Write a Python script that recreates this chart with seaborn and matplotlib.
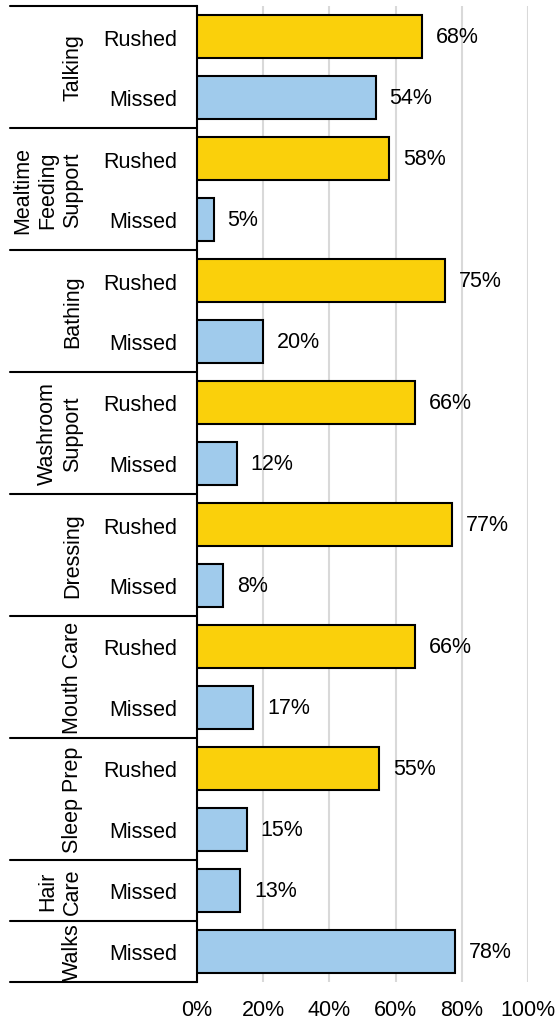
import pandas as pd
import matplotlib.pyplot as plt
import matplotlib.transforms as mtransforms
import seaborn as sns

# ============================
# DATOS
# ============================
groups = ["Talking", "Mealtime\nFeeding\nSupport", "Bathing", "Washroom\nSupport",
          "Dressing", "Mouth Care", "Sleep Prep", "Hair\nCare", "Walks"]
rushed = [68, 58, 75, 66, 77, 66, 55, None, None]
missed = [54, 5, 20, 12, 8, 17, 15, 13, 78]

colors = {"Rushed": "#FAD00B", "Missed": "#A0CBEC"}

# Construimos la tabla fila por fila (orden de arriba hacia abajo)
rows = []
for g, r, m in zip(groups, rushed, missed):
    if r is not None:
        rows.append({"group": g, "type": "Rushed", "value": r, "row": g + "|Rushed"})
    rows.append({"group": g, "type": "Missed", "value": m, "row": g + "|Missed"})
df = pd.DataFrame(rows)

# ============================
# ESTILO
# ============================
sns.set_style("white")
plt.rcParams["font.family"] = ["Liberation Sans", "DejaVu Sans"]
plt.rcParams["font.size"] = 15.5
plt.rcParams["text.color"] = "black"
plt.rcParams["xtick.color"] = "black"
plt.rcParams["ytick.color"] = "black"

fig = plt.figure(figsize=(5.58, 10.2), dpi=100)
ax = fig.add_axes([197 / 558, 1 - 983 / 1020, 331 / 558, 976 / 1020])

sns.barplot(
    data=df, x="value", y="row", hue="type", palette=colors, saturation=1,
    dodge=False, orient="h", width=0.7, edgecolor="black",
    linewidth=1.5, legend=False, ax=ax, zorder=3
)

for c in ax.containers:
    ax.bar_label(c, labels=[f"{v:.0f}%" for v in c.datavalues],
                 padding=10, fontsize=15.5, color="black")

# Ejes
ax.set_xlim(0, 100)
ax.set_ylim(len(df) - 0.5, -0.5)
ax.set_xticks([0, 20, 40, 60, 80, 100])
ax.set_xticklabels([f"{t}%" for t in [0, 20, 40, 60, 80, 100]])
ax.set_yticks(range(len(df)))
ax.set_yticklabels(df["type"])
ax.set_xlabel("")
ax.set_ylabel("")
ax.tick_params(axis="y", length=0, pad=14, labelcolor="black")
ax.tick_params(axis="x", length=0, pad=12, labelcolor="black")
ax.xaxis.grid(True, color="#D9D9D9", linewidth=1.5, zorder=0)
ax.set_axisbelow(True)
for s in ["top", "right", "bottom"]:
    ax.spines[s].set_visible(False)
ax.spines["left"].set_color("black")
ax.spines["left"].set_linewidth(1.5)

# Separadores de grupo y etiquetas de grupo
trans = mtransforms.blended_transform_factory(ax.transAxes, ax.transData)
x_left = (10 - 197) / 331
x_label = (83 - 197) / 331
pos = 0
ax.plot([x_left, 0], [-0.5, -0.5], color="black", lw=1.5, transform=trans, clip_on=False)
for g in groups:
    n = (df["group"] == g).sum()
    center = pos + (n - 1) / 2
    ax.text(x_label, center, g, rotation=90, ha="right", va="center",
            transform=trans, fontsize=15.5, linespacing=1.25, multialignment="center")
    pos += n
    ax.plot([x_left, 0], [pos - 0.5, pos - 0.5], color="black", lw=1.5,
            transform=trans, clip_on=False)

fig.savefig("out.png", dpi=100)
plt.close()
